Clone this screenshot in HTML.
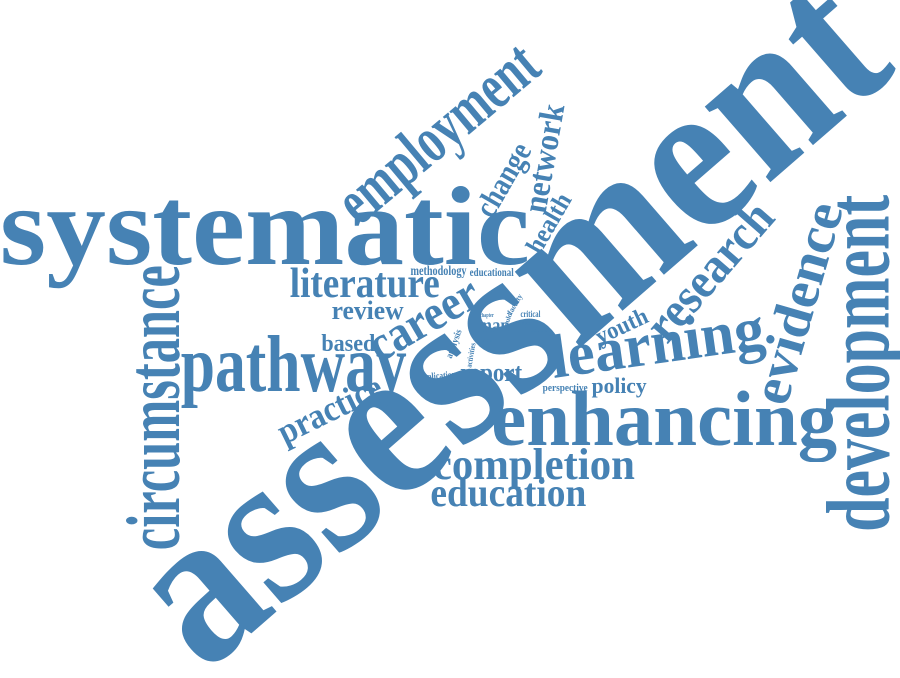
<!DOCTYPE html>
<html><head><meta charset="utf-8">
<style>
html,body{margin:0;padding:0;background:#fff;}
#cloud{position:relative;width:900px;height:678px;overflow:hidden;background:#fff;}
.w{position:absolute;white-space:nowrap;line-height:1;font-family:"Liberation Serif",serif;font-weight:bold;color:#4682b4;}
</style></head>
<body>
<div id="cloud"></div>
<script>
// word, baseline-mid x, baseline-mid y, font size, angle, target width
const words = ["systematic","assessment","employment","change","network","health","literature","review","methodology","educational","career","based","pathway","practice","circumstance","map","impact","critical","report","application","perspective","policy","youth","research","learning","evidence","development","enhancing","completion","education","analysis","activities","clinical","chapter","faculty","could","method"];
const weights = [112,218,66,32,34,26,42,26,14,12,50,24,80,36,76,20,12,9,26,10,10,22,24,50,62,55,90,78,44,40,10,8,7,6,8,7,6];
const posX = [265,553,452,512,556,557,365,368,438,492,432,348,294,335,180,494,532,530,491,438,565,619,625,722,660,815,890,664,534,508,458,474,486,487,518,510,524];
const posY = [265,374,150,185,160,228,298,320,277,276,333,352,392,420,408,333,332,318,382,380,392,393,334,282,364,308,363,445,480,507,345,356,343,318,306,322,326];
const angles = [0,-41,-40,-60,-80,-60,0,0,0,0,-30,0,0,-26,-90,0,0,0,0,-5,0,0,-25,-49,-8,-74,-90,0,0,0,-70,-80,0,0,-60,-70,0];
const widths = [530,920,241,80,110,65,150,72,56,44,120,54,226,112,285,32,30,20,62,37,45,55,55,167,215,207,337,346,202,156,30,25,18,14,22,16,14];

const cloud = document.getElementById('cloud');
words.forEach((t,i)=>{
  const el = document.createElement('span');
  el.className='w';
  
  
  el.textContent = t;
  el.style.fontSize = weights[i]+'px';
  cloud.appendChild(el);
  const w = el.getBoundingClientRect().width;
  const s = widths[i]/w;
  const fs = weights[i];
  const by = 0.838*fs;
  el.style.left = (posX[i]-w/2)+'px';
  el.style.top = (posY[i]-by)+'px';
  el.style.transformOrigin = '50% '+by+'px';
  el.style.transform = 'rotate('+angles[i]+'deg) scaleX('+s+')';
});
</script>
</body></html>
